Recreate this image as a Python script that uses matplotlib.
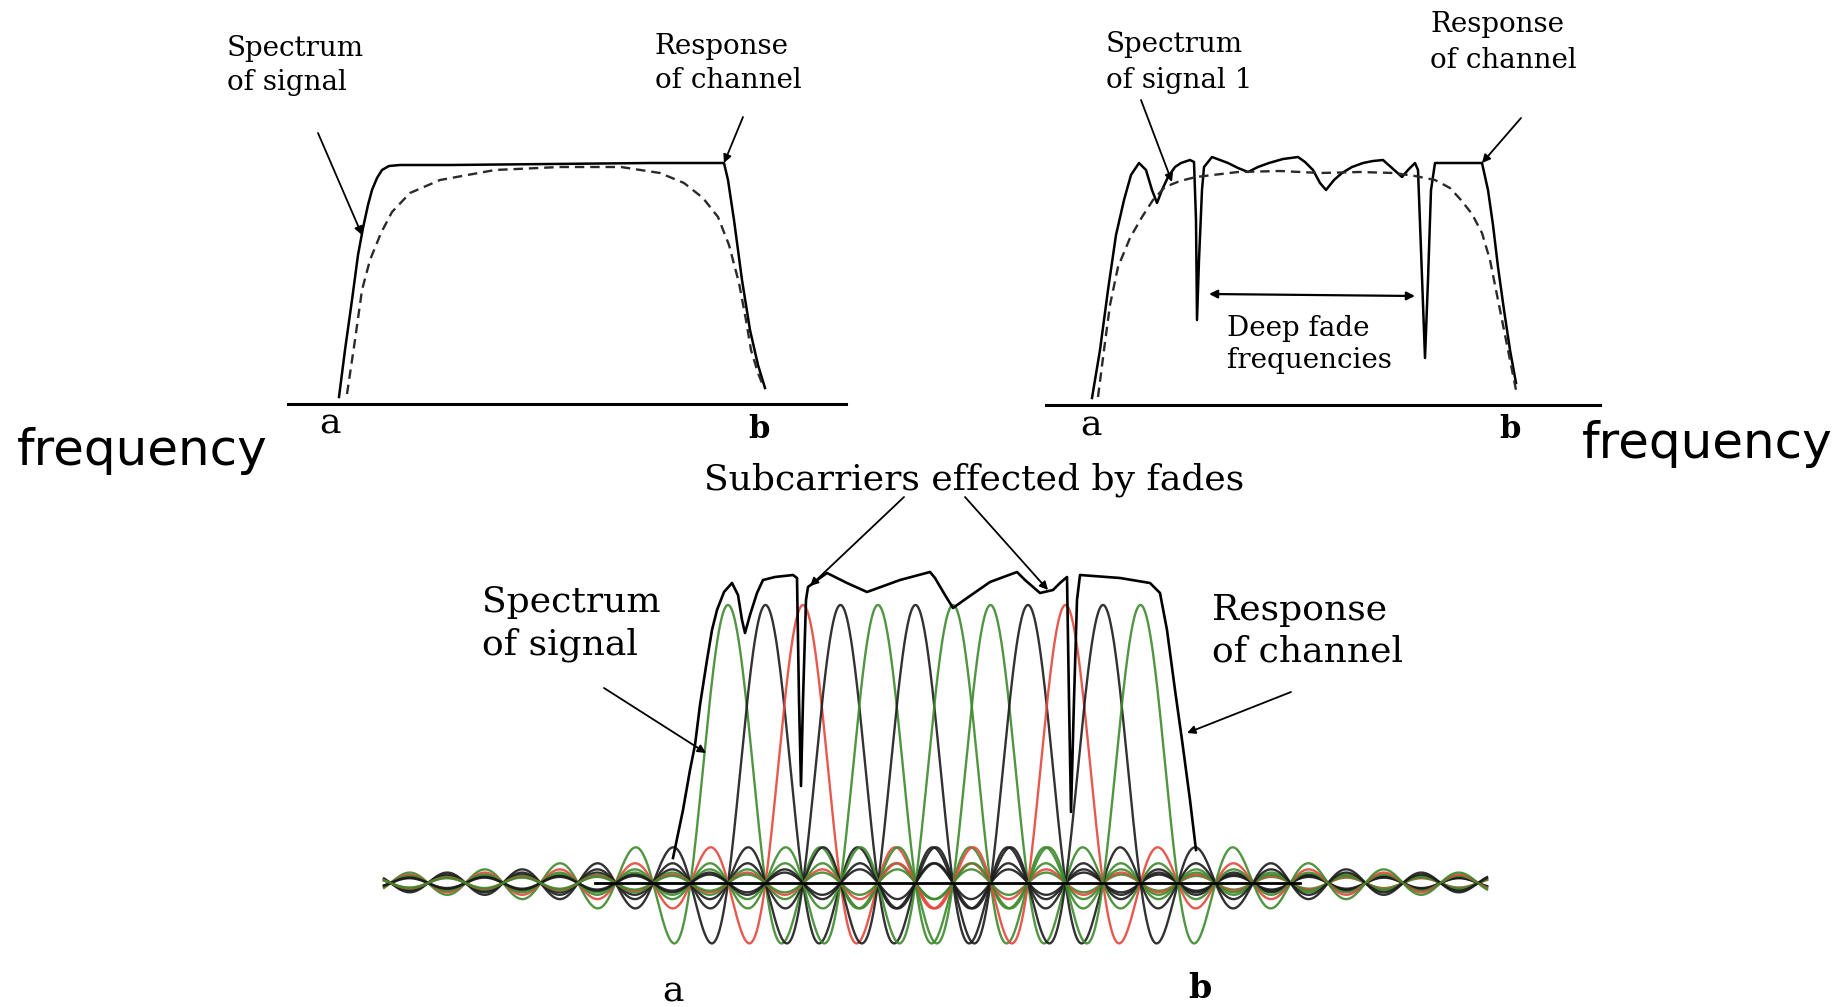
import numpy as np
import matplotlib.pyplot as plt

# ---- top-left panel: flat channel (pixel coords) ----
tl_solid_x = [339, 345, 352, 358, 363, 368, 372, 377, 382, 389, 400, 450, 550, 650, 700, 724,
              728, 734, 742, 750, 758, 765]
tl_solid_y = [397, 350, 300, 255, 228, 205, 190, 178, 170, 166, 165, 165, 164, 163, 163, 163,
              180, 220, 280, 330, 365, 388]
tl_dash_x = [347, 355, 362, 370, 381, 392, 410, 440, 495, 560, 621, 660, 684, 703, 718,
             729, 739, 746, 751, 758, 764]
tl_dash_y = [394, 340, 290, 260, 233, 212, 193, 180, 170, 167, 167, 173, 183, 198, 217,
             245, 283, 320, 350, 373, 388]

# ---- top-right panel: frequency selective channel ----
tr_solid_x = [1092, 1100, 1108, 1116, 1124, 1131, 1139, 1146, 1152, 1157, 1162, 1168, 1175,
              1181, 1190, 1194, 1196, 1197, 1199, 1202, 1204, 1212, 1220, 1228, 1238, 1248,
              1258, 1269, 1283, 1298, 1305, 1313, 1320, 1326, 1334, 1342, 1352, 1363, 1373,
              1383, 1392, 1402, 1408, 1415, 1418, 1421, 1425, 1428, 1431, 1435, 1460, 1482,
              1488, 1493, 1498, 1504, 1510, 1516]
tr_solid_y = [398, 350, 290, 235, 200, 175, 163, 170, 190, 203, 190, 177, 167,
              163, 160, 162, 220, 320, 260, 190, 167, 157, 160, 163, 168, 172,
              167, 163, 159, 157, 162, 170, 183, 190, 180, 173, 167, 163, 161,
              160, 168, 177, 170, 163, 170, 250, 358, 280, 190, 163, 163, 163,
              190, 225, 267, 310, 350, 383]
tr_dash_x = [1098, 1104, 1110, 1118, 1130, 1142, 1153, 1165, 1180, 1196, 1238, 1280, 1320,
             1360, 1394, 1415, 1435, 1450, 1461, 1472, 1482, 1490, 1498, 1506, 1512, 1516]
tr_dash_y = [397, 350, 305, 267, 238, 217, 200, 187, 181, 177, 172, 171, 173,
             172, 173, 176, 180, 188, 200, 214, 233, 260, 300, 340, 370, 390]

# ---- bottom panel: OFDM subcarriers ----
sub_centers = [728, 765.5, 803, 840.5, 878, 915.5, 953, 990.5, 1028, 1065.5, 1103, 1140.5]
sub_colors = ['green', 'black', 'red', 'black', 'green', 'black',
              'green', 'green', 'black', 'red', 'black', 'green']
sub_spacing = 37.5
sub_zero = 883
sub_peak = 605
ripple_from, ripple_to = 384, 1487

env_x = [673, 683, 690, 695, 700, 707, 712, 717, 724, 732, 738, 742, 745, 750, 757, 763,
         775, 793, 797, 799, 801, 803, 806, 808, 820, 827, 847, 867, 900, 930, 935, 945,
         953, 967, 990, 1017, 1025, 1040, 1053, 1060, 1067, 1069, 1071, 1074, 1077, 1080,
         1120, 1150, 1160, 1167, 1175, 1182, 1190, 1196]
env_y = [858, 810, 770, 745, 705, 660, 630, 610, 592, 583, 595, 620, 633, 615, 593, 580,
         577, 575, 578, 700, 786, 700, 600, 587, 578, 573, 583, 592, 580, 572, 578, 595,
         608, 598, 582, 572, 580, 593, 590, 583, 577, 700, 812, 700, 600, 575,
         578, 583, 593, 630, 690, 740, 800, 850]

colour_map = {'green': '#3d8a2c', 'red': '#e5463c', 'black': '#1c1c1c'}

fig = plt.figure(figsize=(18.45, 10.07), dpi=100)
ax = fig.add_axes([0, 0, 1, 1])
ax.set_xlim(0, 1845)
ax.set_ylim(1007, 0)
ax.axis('off')

serif = 'DejaVu Serif'


def label(x, y, lines, size, gap):
    for i, s in enumerate(lines):
        ax.text(x, y + i * gap, s, fontsize=size, family=serif, va='center', ha='left')


def pointer(x0, y0, x1, y1):
    ax.annotate('', xy=(x1, y1), xytext=(x0, y0),
                arrowprops=dict(arrowstyle='-|>', lw=1.3, color='k',
                                mutation_scale=12, shrinkA=0, shrinkB=0))


# top-left
ax.plot([288, 846], [404, 404], color='k', lw=2.2)
ax.plot(tl_solid_x, tl_solid_y, color='k', lw=1.8)
ax.plot(tl_dash_x, tl_dash_y, color='#2a2a2a', lw=1.7, dashes=(4, 2.5))
label(227, 48, ['Spectrum', 'of signal'], 20, 35)
label(655, 46, ['Response', 'of channel'], 20, 35)
pointer(318, 133, 362, 235)
pointer(743, 117, 724, 163)
ax.text(330, 424, 'a', fontsize=26, family=serif, ha='center', va='center')
ax.text(759, 430, 'b', fontsize=22, family=serif, weight='bold', ha='center', va='center')
ax.text(17, 465, 'frequency', fontsize=36, family='DejaVu Sans', ha='left', va='baseline')

# top-right
ax.plot([1046, 1600], [405, 405], color='k', lw=2.2)
ax.plot(tr_solid_x, tr_solid_y, color='k', lw=1.8)
ax.plot(tr_dash_x, tr_dash_y, color='#2a2a2a', lw=1.7, dashes=(4, 2.5))
label(1106, 45, ['Spectrum', 'of signal 1'], 20, 35)
label(1430, 25, ['Response', 'of channel'], 20, 35)
pointer(1141, 100, 1172, 182)
pointer(1521, 118, 1482, 163)
ax.annotate('', xy=(1415, 296), xytext=(1209, 294),
            arrowprops=dict(arrowstyle='<|-|>', lw=1.6, color='k',
                            mutation_scale=12, shrinkA=0, shrinkB=0))
label(1227, 328, ['Deep fade', 'frequencies'], 20, 33)
ax.text(1091, 426, 'a', fontsize=26, family=serif, ha='center', va='center')
ax.text(1510, 430, 'b', fontsize=22, family=serif, weight='bold', ha='center', va='center')
ax.text(1582, 458, 'frequency', fontsize=36, family='DejaVu Sans', ha='left', va='baseline')

# bottom: subcarriers
xs = np.linspace(ripple_from, ripple_to, 2000)
for c, col in zip(sub_centers, sub_colors):
    ax.plot(xs, sub_zero - (sub_zero - sub_peak) * np.sinc((xs - c) / sub_spacing),
            color=colour_map[col], lw=1.7, alpha=0.9)
ax.plot([595, 1300], [sub_zero, sub_zero], color='k', lw=2.0)
ax.plot(env_x, env_y, color='k', lw=1.9)

ax.text(974, 480, 'Subcarriers effected by fades', fontsize=26, family=serif,
        ha='center', va='center')
label(482, 602, ['Spectrum', 'of signal'], 26, 43)
label(1212, 610, ['Response', 'of channel'], 26, 42)
pointer(604, 688, 706, 753)
pointer(1291, 692, 1187, 733)
pointer(904, 497, 810, 586)
pointer(965, 497, 1048, 590)
ax.text(673, 975, 'a', fontsize=26, family=serif, ha='center', va='top')
ax.text(1200, 972, 'b', fontsize=24, family=serif, weight='bold', ha='center', va='top')

fig.savefig('out.png', dpi=100, facecolor='white')
